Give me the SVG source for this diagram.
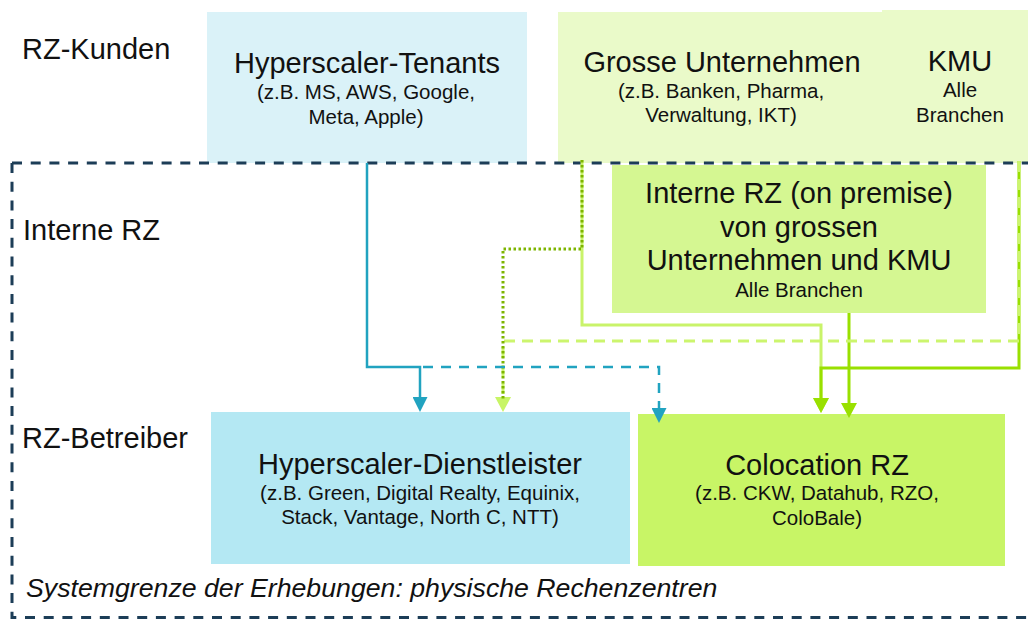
<svg xmlns="http://www.w3.org/2000/svg" width="1028" height="619" viewBox="0 0 1028 619">
<style>
text{font-family:"Liberation Sans",Arial,sans-serif;fill:#111;}
.lbl{font-size:29px;}
.ttl{font-size:29px;text-anchor:middle;}
.sub{font-size:20.5px;text-anchor:middle;}
.it{font-size:26.7px;font-style:italic;}
.ln{fill:none;stroke-linejoin:miter;}
</style>
<defs>
<marker id="aTeal" markerUnits="userSpaceOnUse" markerWidth="15" markerHeight="15" viewBox="0 0 15 15" refX="2" refY="7.5" orient="auto"><path d="M0,0 L15,7.5 L0,15 z" fill="#21A3C0"/></marker>
<marker id="aBright" markerUnits="userSpaceOnUse" markerWidth="15" markerHeight="16" viewBox="0 0 15 16" refX="2" refY="8" orient="auto"><path d="M0,0 L15,8 L0,16 z" fill="#99E000"/></marker>
<marker id="aLight" markerUnits="userSpaceOnUse" markerWidth="15" markerHeight="16" viewBox="0 0 15 16" refX="2" refY="8" orient="auto"><path d="M0,0 L15,8 L0,16 z" fill="#C8F566"/></marker>
</defs>
<rect width="1028" height="619" fill="#fff"/>

<g id="label-kunden"><text class="lbl" x="22" y="59">RZ-Kunden</text></g>
<g id="label-interne"><text class="lbl" x="23" y="240">Interne RZ</text></g>
<g id="label-betreiber"><text class="lbl" x="22" y="448">RZ-Betreiber</text></g>

<g id="node-tenants">
<rect x="207" y="12" width="320" height="151" fill="#DAF2F8"/>
<text class="ttl" x="367" y="73">Hyperscaler-Tenants</text>
<text class="sub" x="366" y="99">(z.B. MS, AWS, Google,</text>
<text class="sub" x="366" y="123.5">Meta, Apple)</text>
</g>
<g id="node-grosse">
<rect x="558" y="12" width="325" height="151" fill="#EAFAC9"/>
<text class="ttl" x="722" y="72">Grosse Unternehmen</text>
<text class="sub" x="721" y="98">(z.B. Banken, Pharma,</text>
<text class="sub" x="721" y="122">Verwaltung, IKT)</text>
</g>
<g id="node-kmu">
<rect x="882" y="10" width="146" height="153" fill="#EAFAC9"/>
<text class="ttl" x="960" y="71">KMU</text>
<text class="sub" x="960" y="97">Alle</text>
<text class="sub" x="960" y="122">Branchen</text>
</g>
<g id="node-interne">
<rect x="612" y="165" width="374" height="148" fill="#D5F792"/>
<text class="ttl" x="799" y="203">Interne RZ (on premise)</text>
<text class="ttl" x="799" y="237">von grossen</text>
<text class="ttl" x="799" y="270">Unternehmen und KMU</text>
<text class="sub" x="799" y="297">Alle Branchen</text>
</g>
<g id="node-dienstleister">
<rect x="211" y="412" width="419" height="152" fill="#B4E8F3"/>
<text class="ttl" x="420" y="474">Hyperscaler-Dienstleister</text>
<text class="sub" x="420" y="500">(z.B. Green, Digital Realty, Equinix,</text>
<text class="sub" x="420" y="524">Stack, Vantage, North C, NTT)</text>
</g>
<g id="node-colocation">
<rect x="638" y="414" width="367" height="152" fill="#C8F566"/>
<text class="ttl" x="817" y="475">Colocation RZ</text>
<text class="sub" x="817" y="500">(z.B. CKW, Datahub, RZO,</text>
<text class="sub" x="817" y="525">ColoBale)</text>
</g>

<g id="boundary" fill="none" stroke="#1C3D57" stroke-width="3" stroke-dasharray="10 8.7">
<path d="M12,163 H1028"/>
<path d="M12,163 V617.5 H1028"/>
</g>
<g id="label-system"><text class="it" x="26" y="597">Systemgrenze der Erhebungen: physische Rechenzentren</text></g>

<g id="connectors">
<path class="ln" d="M582,160 V325 H821 V400" stroke="#C9F36A" stroke-width="3" marker-end="url(#aLight)"/>
<path class="ln" d="M1019,161 V368 H821 V400" stroke="#99E000" stroke-width="3" marker-end="url(#aBright)"/>
<path class="ln" d="M849,313 V405" stroke="#99E000" stroke-width="3" marker-end="url(#aBright)"/>
<path class="ln" d="M1019,161 V341 H503 V399" stroke="#CCF56E" stroke-width="3" stroke-dasharray="11 7" marker-end="url(#aLight)"/>
<path class="ln" d="M582,160 V249 H503 V399" stroke="#7DB500" stroke-width="3" stroke-dasharray="2.5 2.5"/>
<path class="ln" d="M367,163 V367 H420 V399" stroke="#21A3C0" stroke-width="2.5" marker-end="url(#aTeal)"/>
<path class="ln" d="M420,367 H659 V410" stroke="#21A3C0" stroke-width="2.5" stroke-dasharray="10 8" stroke-dashoffset="-3" marker-end="url(#aTeal)"/>
</g>
</svg>
